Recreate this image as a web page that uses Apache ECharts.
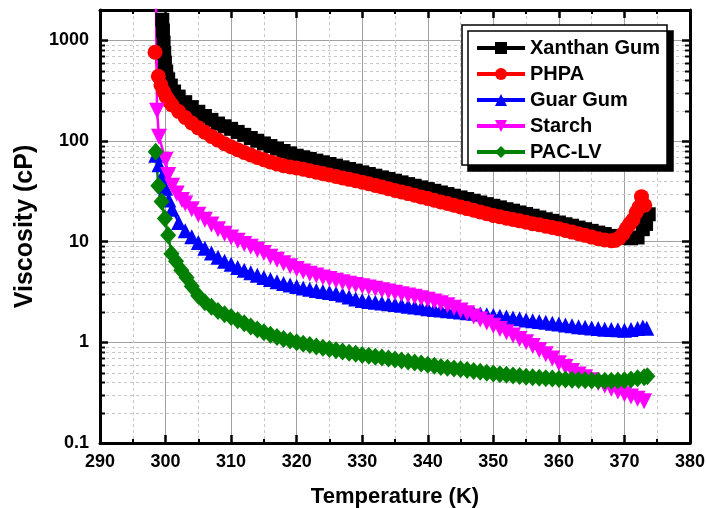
<!DOCTYPE html>
<html>
<head>
<meta charset="utf-8">
<script src="https://cdn.jsdelivr.net/npm/echarts@6/dist/echarts.min.js"></script>
<style>html,body{margin:0;padding:0;background:#fff;}#c{width:707px;height:508px;}</style>
</head>
<body>
<div id="c"></div>
<script>
var seriesNames = ['Xanthan Gum', 'PHPA', 'Guar Gum', 'Starch', 'PAC-LV'];

var xanthanT = [299.5, 299.6, 299.7, 299.8, 299.9, 300.1, 300.4, 300.8, 301.3, 302, 303, 304, 305, 306, 307, 308, 309, 310, 311, 312, 313, 314, 315, 316, 317, 318, 319, 320, 321, 322, 323, 324, 325, 326, 327, 328, 329, 330, 331, 332, 333, 334, 335, 336, 337, 338, 339, 340, 341, 342, 343, 344, 345, 346, 347, 348, 349, 350, 351, 352, 353, 354, 355, 356, 357, 358, 359, 360, 361, 362, 363, 364, 365, 366, 367, 368, 369, 370, 371, 372, 372.8, 373.3, 373.7];
var xanthanV = [1600, 1250, 950, 750, 600, 490, 410, 355, 310, 276, 243, 217, 195, 177, 162, 149, 140, 132, 123, 115, 107, 100.5, 94.5, 89, 84, 79.5, 75.3, 71.4, 68.9, 66.3, 63.8, 61.4, 59.1, 56.9, 54.7, 52.7, 50.7, 48.8, 47.0, 45.2, 43.5, 41.9, 40.3, 38.8, 37.3, 35.9, 34.6, 33.3, 32.0, 30.8, 29.7, 28.6, 27.5, 26.5, 25.5, 24.5, 23.6, 22.7, 21.9, 21.0, 20.3, 19.5, 18.8, 18.1, 17.4, 16.7, 16.1, 15.5, 14.9, 14.4, 13.8, 13.3, 12.8, 12.3, 11.9, 11.4, 11.1, 10.9, 10.8, 11.0, 13.3, 15.0, 18.7];

var phpaT = [298.4, 298.9, 299.3, 299.7, 300.1, 300.5, 301, 302, 303, 304, 305, 306, 307, 308, 309, 310, 311, 312, 313, 314, 315, 316, 317, 318, 319, 320, 321, 322, 323, 324, 325, 326, 327, 328, 329, 330, 331, 332, 333, 334, 335, 336, 337, 338, 339, 340, 341, 342, 343, 344, 345, 346, 347, 348, 349, 350, 351, 352, 353, 354, 355, 356, 357, 358, 359, 360, 361, 362, 363, 364, 365, 366, 367, 368, 368.6, 369.2, 369.8, 370.3, 370.8, 371.3, 371.8, 372.2, 372.6, 373.1];
var phpaV = [760, 440, 360, 310, 275, 250, 228, 196, 171, 151, 135, 122, 111, 102, 94, 87.5, 82, 77, 72.5, 68.5, 65, 62, 59.2, 56.8, 55.2, 54, 52.3, 50.6, 49, 47.4, 45.9, 44.4, 43, 41.6, 40.3, 39, 37.6, 36.2, 34.9, 33.6, 32.3, 31.1, 30, 28.9, 27.8, 26.8, 25.8, 24.8, 23.9, 23, 22.1, 21.3, 20.5, 19.7, 18.9, 18.2, 17.65, 17.1, 16.6, 16.1, 15.6, 15.1, 14.7, 14.2, 13.8, 13.4, 12.9, 12.45, 12, 11.55, 11.1, 10.7, 10.4, 10.2, 10.3, 10.9, 12, 13.5, 15, 16.5, 19.5, 22, 28, 23];

var guarT = [298.5, 299, 299.5, 300, 300.5, 301, 302, 303, 304, 305, 306, 307, 308, 309, 310, 311, 312, 313, 314, 315, 316, 317, 318, 319, 320, 321, 322, 323, 324, 325, 326, 327, 328, 329, 330, 331, 332, 333, 334, 335, 336, 337, 338, 339, 340, 341, 342, 343, 344, 345, 346, 347, 348, 349, 350, 351, 352, 353, 354, 355, 356, 357, 358, 359, 360, 361, 362, 363, 364, 365, 366, 367, 368, 369, 370, 371, 372, 372.8, 373.4];
var guarV = [72, 58, 45, 34, 26, 21, 15.5, 12.8, 11.2, 9.8, 8.6, 7.7, 7.0, 6.4, 5.95, 5.55, 5.2, 4.9, 4.65, 4.4, 4.2, 4.0, 3.85, 3.7, 3.58, 3.47, 3.37, 3.28, 3.2, 3.12, 3.05, 2.95, 2.82, 2.7, 2.6, 2.54, 2.5, 2.46, 2.41, 2.37, 2.33, 2.28, 2.24, 2.2, 2.16, 2.12, 2.09, 2.06, 2.03, 2.0, 1.97, 1.94, 1.91, 1.88, 1.85, 1.82, 1.78, 1.74, 1.71, 1.67, 1.64, 1.61, 1.58, 1.55, 1.52, 1.49, 1.46, 1.43, 1.41, 1.39, 1.37, 1.35, 1.34, 1.33, 1.32, 1.34, 1.37, 1.42, 1.38];

var starchT = [298.5, 298.7, 299.0, 300, 300.4, 301, 301.7, 302.5, 303, 304, 305, 306, 307, 308, 309, 310, 311, 312, 313, 314, 315, 316, 317, 318, 319, 320, 321, 322, 323, 324, 325, 326, 327, 328, 329, 330, 331, 332, 333, 334, 335, 336, 337, 338, 339, 340, 341, 342, 343, 344, 345, 346, 347, 348, 349, 350, 351, 352, 353, 354, 355, 356, 357, 358, 359, 360, 361, 362, 363, 364, 365, 366, 367, 368, 369, 370, 371, 372, 373];
var starchV = [4000, 200, 110, 65, 46, 36, 30, 26, 24, 21, 18.5, 16.5, 14.8, 13.3, 12, 11, 10.2, 9.5, 8.9, 8.3, 7.7, 7.1, 6.6, 6.1, 5.7, 5.35, 5.05, 4.8, 4.6, 4.4, 4.25, 4.1, 3.95, 3.82, 3.7, 3.6, 3.5, 3.4, 3.3, 3.2, 3.1, 3.0, 2.92, 2.83, 2.74, 2.65, 2.55, 2.45, 2.33, 2.2, 2.07, 1.94, 1.81, 1.69, 1.57, 1.46, 1.36, 1.26, 1.17, 1.08, 1.0, 0.92, 0.84, 0.76, 0.69, 0.62, 0.57, 0.52, 0.48, 0.45, 0.42, 0.395, 0.37, 0.345, 0.325, 0.305, 0.29, 0.275, 0.26];

var pacT = [298.5, 298.9, 299.4, 299.9, 300.4, 300.9, 301.6, 302.4, 303.2, 304, 305, 306, 307, 308, 309, 310, 311, 312, 313, 314, 315, 316, 317, 318, 319, 320, 321, 322, 323, 324, 325, 326, 327, 328, 329, 330, 331, 332, 333, 334, 335, 336, 337, 338, 339, 340, 341, 342, 343, 344, 345, 346, 347, 348, 349, 350, 351, 352, 353, 354, 355, 356, 357, 358, 359, 360, 361, 362, 363, 364, 365, 366, 367, 368, 369, 370, 371, 372, 373, 373.5];
var pacV = [78, 36, 25, 17, 11.6, 7.6, 6.4, 5.2, 4.4, 3.6, 2.9, 2.5, 2.25, 2.05, 1.9, 1.78, 1.66, 1.55, 1.44, 1.34, 1.26, 1.19, 1.13, 1.08, 1.04, 1.0, 0.97, 0.94, 0.91, 0.885, 0.86, 0.835, 0.81, 0.79, 0.77, 0.75, 0.735, 0.72, 0.705, 0.69, 0.675, 0.66, 0.645, 0.63, 0.615, 0.6, 0.585, 0.57, 0.56, 0.55, 0.54, 0.53, 0.52, 0.51, 0.5, 0.49, 0.482, 0.475, 0.468, 0.462, 0.456, 0.45, 0.445, 0.44, 0.436, 0.432, 0.428, 0.425, 0.422, 0.42, 0.418, 0.416, 0.415, 0.415, 0.417, 0.42, 0.428, 0.44, 0.45, 0.46];

var xTicks = { min: 290, max: 380, interval: 10 };
var yRange = { min: 0.1, max: 2000 };
var yMinorTicks = [0.2, 0.3, 0.4, 0.5, 0.6, 0.7, 0.8, 0.9, 2, 3, 4, 5, 6, 7, 8, 9, 20, 30, 40, 50, 60, 70, 80, 90, 200, 300, 400, 500, 600, 700, 800, 900];

function zip(t, v) { return t.map(function (x, i) { return [x, v[i]]; }); }

var FONT = 'Arial, "Liberation Sans", sans-serif';
var chart = echarts.init(document.getElementById('c'), null, { renderer: 'canvas' });

function mkSeries(name, t, v, color, symbol, size, rotate) {
  return {
    name: name, type: 'line', data: zip(t, v),
    symbol: symbol, symbolSize: size, symbolRotate: rotate || 0,
    showAllSymbol: true, clip: true,
    lineStyle: { color: color, width: 2.5 },
    itemStyle: { color: color, borderWidth: 0 },
    emphasis: { disabled: true },
    z: 3
  };
}

var option = {
  animation: false,
  backgroundColor: '#fff',
  grid: { left: 100, right: 17, top: 10, bottom: 65, containLabel: false, outerBoundsMode: 'none' },
  legend: {
    data: seriesNames,
    orient: 'vertical',
    left: 462, top: 25,
    padding: [13, 7, 3, 13],
    itemWidth: 48, itemHeight: 15, itemGap: 6,
    backgroundColor: '#fff',
    borderColor: '#000', borderWidth: 1.5,
    shadowColor: '#000', shadowBlur: 0, shadowOffsetX: 6, shadowOffsetY: 6,
    lineStyle: { width: 4 },
    selectedMode: false,
    textStyle: { fontFamily: FONT, fontWeight: 'bold', fontSize: 20, color: '#000', padding: [0, 0, 0, 0] }
  },
  xAxis: [{
    type: 'value', min: xTicks.min, max: xTicks.max, interval: xTicks.interval,
    position: 'bottom',
    name: 'Temperature (K)', nameLocation: 'middle', nameGap: 43,
    nameTextStyle: { fontFamily: FONT, fontWeight: 'bold', fontSize: 22, color: '#000' },
    axisLine: { show: true, onZero: false, lineStyle: { color: '#000', width: 3 } },
    axisTick: { show: true, inside: true, length: 8, lineStyle: { color: '#000', width: 2.5 } },
    minorTick: { show: true, splitNumber: 2, length: 4, lineStyle: { color: '#000', width: 2 } },
    axisLabel: { fontFamily: FONT, fontWeight: 'bold', fontSize: 18, color: '#000', margin: 10 },
    splitLine: { show: true, lineStyle: { color: '#a0a0a0', width: 1 } },
    minorSplitLine: { show: true, lineStyle: { color: '#c8c8c8', width: 1, type: [3, 3] } }
  }, {
    type: 'value', min: xTicks.min, max: xTicks.max, interval: xTicks.interval,
    position: 'top',
    axisLine: { show: true, onZero: false, lineStyle: { color: '#000', width: 3 } },
    axisTick: { show: true, inside: true, length: 8, lineStyle: { color: '#000', width: 2.5 } },
    minorTick: { show: true, splitNumber: 2, length: 4, lineStyle: { color: '#000', width: 2 } },
    axisLabel: { show: false },
    splitLine: { show: false }
  }],
  yAxis: [{
    type: 'log', logBase: 10, min: yRange.min, max: yRange.max,
    position: 'left',
    name: 'Viscosity (cP)', nameLocation: 'middle', nameGap: 52, nameRotate: 90,
    nameTextStyle: { fontFamily: FONT, fontWeight: 'bold', fontSize: 25, color: '#000' },
    axisLine: { show: true, onZero: false, lineStyle: { color: '#000', width: 3 } },
    axisTick: { show: true, inside: true, length: 8, lineStyle: { color: '#000', width: 2.5 } },
    axisLabel: { fontFamily: FONT, fontWeight: 'bold', fontSize: 18, color: '#000', margin: 11, showMaxLabel: false,
      formatter: function (v) { return String(+v.toPrecision(6)); } },
    splitLine: { show: true, lineStyle: { color: '#a0a0a0', width: 1 } }
  }, {
    type: 'log', logBase: 10, min: yRange.min, max: yRange.max,
    position: 'right',
    axisLine: { show: true, onZero: false, lineStyle: { color: '#000', width: 3 } },
    axisTick: { show: true, inside: true, length: 8, lineStyle: { color: '#000', width: 2.5 } },
    axisLabel: { show: false },
    splitLine: { show: false }
  }],
  series: [
    {
      name: 'yMinor', type: 'custom', silent: true, z: 1,
      xAxisIndex: 0, yAxisIndex: 0,
      encode: { x: 0, y: 1 },
      data: yMinorTicks.map(function (v) { return [xTicks.min, v]; }),
      renderItem: function (params, api) {
        var v = api.value(1);
        var p = api.coord([xTicks.min, v]);
        var q = api.coord([xTicks.max, v]);
        var y = Math.round(p[1]) + 0.5;
        return {
          type: 'group', children: [
            { type: 'line', shape: { x1: p[0], y1: y, x2: q[0], y2: y }, style: { stroke: '#c8c8c8', lineWidth: 1, lineDash: [3, 3] } },
            { type: 'line', shape: { x1: p[0], y1: y, x2: p[0] + 5, y2: y }, style: { stroke: '#000', lineWidth: 2 } },
            { type: 'line', shape: { x1: q[0] - 5, y1: y, x2: q[0], y2: y }, style: { stroke: '#000', lineWidth: 2 } }
          ]
        };
      }
    },
    mkSeries('Xanthan Gum', xanthanT, xanthanV, '#000000', 'rect', 14),
    mkSeries('PHPA', phpaT, phpaV, '#ff0000', 'circle', 15),
    mkSeries('Guar Gum', guarT, guarV, '#0000ff', 'triangle', 15),
    mkSeries('Starch', starchT, starchV, '#ff00ff', 'triangle', 16, 180),
    mkSeries('PAC-LV', pacT, pacV, '#008000', 'diamond', [16, 18])
  ]
};
chart.setOption(option);
</script>
</body>
</html>
